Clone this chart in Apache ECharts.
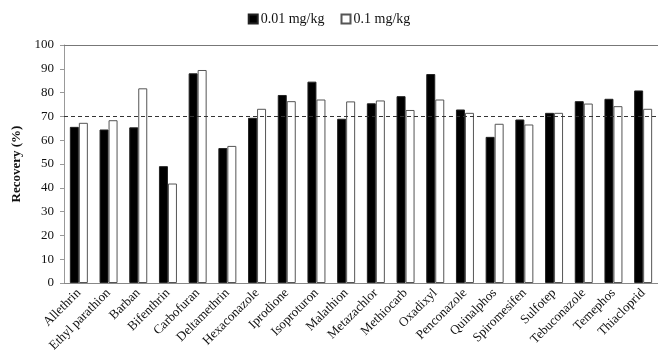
<!DOCTYPE html>
<html>
<head>
<meta charset="utf-8">
<script src="https://cdn.jsdelivr.net/npm/echarts@6/dist/echarts.min.js"></script>
<style>
  html, body { margin: 0; padding: 0; background: #fff; }
  #chart { width: 658px; height: 360px; }
</style>
</head>
<body>
<div id="chart"></div>
<script>
// pesticide names along the x axis
var compounds = ['Allethrin', 'Ethyl parathion', 'Barban', 'Bifenthrin', 'Carbofuran',
  'Deltamethrin', 'Hexaconazole', 'Iprodione', 'Isoproturon', 'Malathion',
  'Metazachlor', 'Methiocarb', 'Oxadixyl', 'Penconazole', 'Quinalphos',
  'Spiromesifen', 'Sulfotep', 'Tebuconazole', 'Temephos', 'Thiacloprid'];

// recovery (%)
var low = [65.6, 64.5, 65.4, 49.1, 88.1, 56.7, 69.4, 79.0, 84.6, 69.0,
  75.5, 78.5, 87.8, 72.9, 61.4, 68.7, 71.5, 76.4, 77.4, 80.9];
var high = [67.3, 68.4, 81.8, 41.8, 89.5, 57.6, 73.2, 76.4, 77.1, 76.3,
  76.7, 72.7, 77.1, 71.5, 66.9, 66.6, 71.5, 75.4, 74.3, 73.2];

var yTicks = { min: 0, max: 100, interval: 10 };
var limit = 70;

var serif = '"Liberation Serif", "Times New Roman", serif';
var chart = echarts.init(document.getElementById('chart'));

chart.setOption({
  animation: false,
  textStyle: { fontFamily: serif },
  legend: {
    top: 7,
    left: 'center',
    itemWidth: 9,
    itemHeight: 9,
    itemGap: 16,
    icon: 'rect',
    textStyle: { fontFamily: serif, fontSize: 14, color: '#111', padding: [0, 0, 0, -2] },
    data: ['0.01 mg/kg', '0.1 mg/kg']
  },
  grid: { left: 64, top: 45, width: 603, bottom: 77 },
  xAxis: [
    {
      type: 'category',
      data: compounds,
      axisLine: { lineStyle: { color: '#888', width: 1 } },
      axisTick: { show: false },
      axisLabel: {
        rotate: 45,
        interval: 0,
        margin: 8,
        fontFamily: serif,
        fontSize: 13,
        color: '#111'
      }
    },
    {
      type: 'category',
      position: 'top',
      data: compounds,
      axisLine: { lineStyle: { color: '#777', width: 1 } },
      axisTick: { show: false },
      axisLabel: { show: false }
    }
  ],
  yAxis: {
    type: 'value',
    min: yTicks.min,
    max: yTicks.max,
    interval: yTicks.interval,
    name: 'Recovery (%)',
    nameLocation: 'middle',
    nameGap: 40,
    nameTextStyle: { fontFamily: serif, fontSize: 13, fontWeight: 'bold', color: '#111' },
    axisLine: { show: true, lineStyle: { color: '#999', width: 1 } },
    axisTick: { show: true, length: 4, lineStyle: { color: '#999' } },
    splitLine: { show: false },
    axisLabel: { fontFamily: serif, fontSize: 13, color: '#111', margin: 10 }
  },
  series: [
    {
      name: '0.01 mg/kg',
      type: 'bar',
      data: low,
      barWidth: 9,
      barGap: '0%',
      itemStyle: { color: '#000', borderColor: '#222', borderWidth: 1 },
      markLine: {
        silent: true,
        symbol: 'none',
        label: { show: false },
        lineStyle: { color: '#333', type: [4, 3], width: 1 },
        data: [{ yAxis: limit }]
      }
    },
    {
      name: '0.1 mg/kg',
      type: 'bar',
      data: high,
      barWidth: 9,
      itemStyle: { color: '#fff', borderColor: '#555', borderWidth: 1 }
    }
  ]
});
</script>
</body>
</html>
